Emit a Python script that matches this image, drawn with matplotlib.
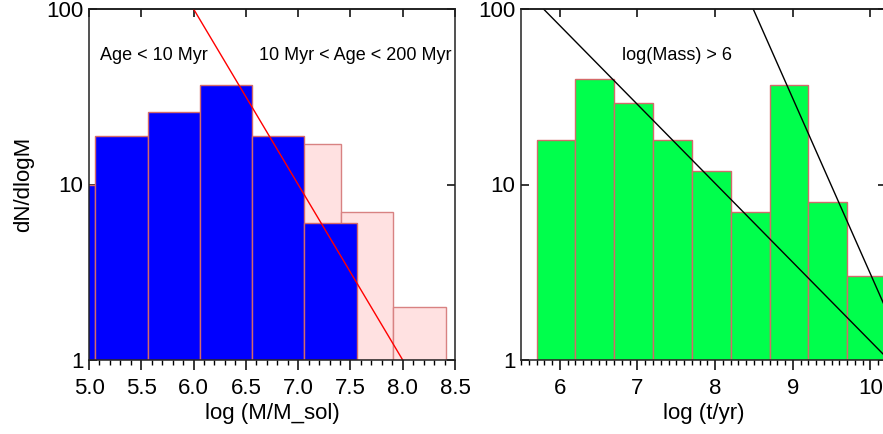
import numpy as np
import matplotlib
matplotlib.use("Agg")
import matplotlib.pyplot as plt
from matplotlib.ticker import MultipleLocator, NullLocator

plt.rcParams['font.family'] = ['Liberation Sans', 'DejaVu Sans']

# left panel: mass function
young_left = [4.56, 5.06, 5.56, 6.06, 6.56, 7.06]
young_counts = [10, 19, 26, 37, 19, 6]
old_left = [6.91, 7.41, 7.91]
old_counts = [17, 7, 2]
mass_line_x = [6.0, 8.0]
mass_line_y = [100, 1]
mass_ticks = [5.0, 5.5, 6.0, 6.5, 7.0, 7.5, 8.0, 8.5]
mass_labels = ['5.0', '5.5', '6.0', '6.5', '7.0', '7.5', '8.0', '8.5']

# right panel: age distribution
age_left = [5.7, 6.2, 6.7, 7.2, 7.7, 8.2, 8.7, 9.2, 9.7]
age_counts = [18, 40, 29, 18, 12, 7, 37, 8, 3]
age_line1_x = [5.79, 10.2]
age_line1_y = [100, 1.04]
age_line2_x = [8.49, 10.2]
age_line2_y = [100, 1.95]
age_ticks = [6, 7, 8, 9, 10]
age_labels = ['6', '7', '8', '9', '10']

bin_w = 0.5
edge_col = '#d46a6a'
fs = 16


def style_axes(ax, xmin, xmax, ticks, labels):
    ax.set_yscale('log')
    ax.set_xlim(xmin, xmax)
    ax.set_ylim(1, 100)
    ax.set_yticks([1, 10, 100], labels=['1', '10', '100'])
    ax.yaxis.set_minor_locator(NullLocator())
    ax.set_xticks(ticks, labels=labels)
    ax.xaxis.set_minor_locator(MultipleLocator(0.1))
    ax.tick_params(axis='x', which='major', direction='out', length=7,
                   width=1.1, labelsize=fs, pad=6, top=False)
    ax.tick_params(axis='x', which='minor', direction='out', length=3.5,
                   width=1.0, top=False)
    ax.tick_params(axis='y', which='major', direction='in', length=5.5,
                   width=1.1, labelsize=fs, pad=4, right=True)
    for s in ax.spines.values():
        s.set_linewidth(1.1)
        s.set_color('#222222')
        s.set_zorder(5)
    top = ax.secondary_xaxis('top')
    top.set_xticks(ticks)
    top.xaxis.set_minor_locator(NullLocator())
    top.tick_params(axis='x', direction='in', length=5.5, width=1.1,
                    labeltop=False)
    top.spines['top'].set_linewidth(1.1)


fig = plt.figure(figsize=(8.83, 4.34), dpi=100)
ax1 = fig.add_axes([89 / 883, 74 / 434, 366 / 883, 351 / 434])
ax2 = fig.add_axes([521 / 883, 74 / 434, 365 / 883, 351 / 434])

ax1.bar(old_left, np.array(old_counts) - 1, bottom=1, width=bin_w,
        align='edge', color='#ffe1e1', edgecolor='#d88282', linewidth=1.0,
        zorder=1)
ax1.bar(young_left, np.array(young_counts) - 1, bottom=1, width=bin_w,
        align='edge', color='#0000ff', edgecolor=edge_col, linewidth=1.0,
        zorder=2)
ax1.plot(mass_line_x, mass_line_y, color='red', lw=1.0, zorder=3)
style_axes(ax1, 5.0, 8.5, mass_ticks, mass_labels)
ax1.set_xlabel('log (M/M_sol)', fontsize=fs, labelpad=3)
ax1.set_ylabel('dN/dlogM', fontsize=fs, labelpad=9)
ax1.text(5.105, 54, 'Age < 10 Myr', fontsize=13, va='center', ha='left')
ax1.text(8.47, 54, '10 Myr < Age < 200 Myr', fontsize=13, va='center',
         ha='right')

ax2.bar(age_left, np.array(age_counts) - 1, bottom=1, width=bin_w,
        align='edge', color='#00ff4c', edgecolor=edge_col, linewidth=1.0,
        zorder=2)
ax2.plot(age_line1_x, age_line1_y, color='black', lw=1.0, zorder=3)
ax2.plot(age_line2_x, age_line2_y, color='black', lw=1.0, zorder=3)
style_axes(ax2, 5.5, 10.2, age_ticks, age_labels)
ax2.set_xlabel('log (t/yr)', fontsize=fs, labelpad=3)
ax2.text(6.806, 54, 'log(Mass) > 6', fontsize=13, va='center', ha='left')

fig.savefig('out.png', dpi=100)
